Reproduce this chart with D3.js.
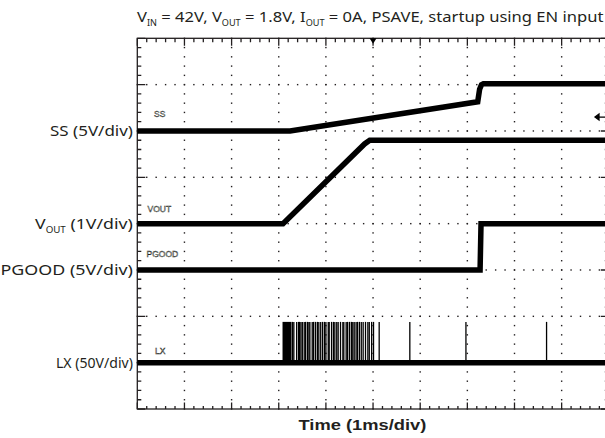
<!DOCTYPE html>
<html>
<head>
<meta charset="utf-8">
<title>Startup using EN input</title>
<style>
  body { margin: 0; background: #fff; }
  svg { display: block; }
  .lbl { font-family: "Noto Sans", sans-serif; font-size: 15px; fill: #231f20; }
  .xlbl { font-family: "Liberation Sans", Arial, sans-serif; font-size: 15px; font-weight: bold; fill: #231f20; }
  .tag { font-family: "Liberation Sans", Arial, sans-serif; font-size: 8.5px; fill: #fff; stroke: #231f20; stroke-width: 0.45px; }
</style>
</head>
<body>
<div id="chart"></div>
<script src="https://cdn.jsdelivr.net/npm/d3@7/dist/d3.min.js"></script>
<script>
// scope settings: 1ms/div, 10 x 8 divisions
const timeDivs = [0, 10];
const voltDivs = [-4, 4];

// channels: ground offset in divisions and volts per division
const channels = ["SS", "VOUT", "PGOOD", "LX"];
const chOffset = [2, 0, -1, -3];
const chVoltsPerDiv = [5, 1, 5, 50];

// traces (time in ms, value in V)
const ssTime   = [0, 3.24, 7.22, 7.26, 7.30, 7.34, 10.2];
const ssVolts  = [0, 0, 3.15, 4.5, 5.0, 5.1, 5.1];
const voutTime  = [0, 3.09, 4.82, 4.93, 10.2];
const voutVolts = [0, 0, 1.72, 1.8, 1.8];
const pgTime   = [0, 7.27, 7.29, 10.2];
const pgVolts  = [0, 0, 5, 5];
const lxBurst  = [3.08, 3.27];
const lxPulses = [3.29, 3.32, 3.38, 3.42, 3.44, 3.47, 3.50, 3.54, 3.57, 3.61, 3.64, 3.66,
  3.71, 3.74, 3.78, 3.82, 3.85, 3.89, 3.93, 3.97, 4.00, 4.05, 4.07, 4.12, 4.16, 4.19, 4.23,
  4.26, 4.31, 4.36, 4.38, 4.43, 4.46, 4.50, 4.54, 4.57, 4.60, 4.64, 4.67, 4.71, 4.75, 4.79,
  4.84, 4.89, 4.92, 4.97, 5.01, 5.13, 5.78, 6.97, 8.68];
const lxPulseVolts = 44;

const triggerLevelDiv = 2.3;

// texts
const titleParts = [["V", "IN", " = 42V, "], ["V", "OUT", " = 1.8V, "], ["I", "OUT", " = 0A, PSAVE, startup using EN input"]];
const chLabels = [["SS", "", " (5V/div)"], ["V", "OUT", " (1V/div)"], ["PGOOD", "", " (5V/div)"], ["LX", "", " (50V/div)"]];
const chTags = ["SS", "VOUT", "PGOOD", "LX"];
const xLabel = "Time (1ms/div)";

const W = 605, H = 438;
const svg = d3.select("#chart").append("svg").attr("width", W).attr("height", H);

const x = d3.scaleLinear().domain(timeDivs).range([137.3, 608.8]);
const y = d3.scaleLinear().domain(voltDivs).range([409, 38.3]);
function chY(i, v) { return y(chOffset[i] + v / chVoltsPerDiv[i]); }

const minorX = d3.range(0, 10.001, 0.2);
const minorY = d3.range(-4, 4.001, 0.2);
const isMajor = d => Math.abs(d - Math.round(d)) < 1e-6;
const ink = "#231f20";

// dotted grid: one dot per minor division
const grid = svg.append("g").attr("fill", ink);
d3.range(1, 10).forEach(c => {
  grid.selectAll(null).data(minorY).join("rect")
    .attr("x", x(c) - 0.7).attr("y", d => y(d) - 0.7).attr("width", 1.4).attr("height", 1.4);
});
d3.range(-3, 4).forEach(r => {
  grid.selectAll(null).data(minorX).join("rect")
    .attr("x", d => x(d) - 0.7).attr("y", y(r) - 0.7).attr("width", 1.4).attr("height", 1.4);
});

// frame
const x0 = x(0), x1 = x(10), yT = y(4), yB = y(-4);

// frame ticks as one path: longer at each division
const tp = d3.path();
minorX.forEach(d => {
  const L = isMajor(d) ? 7.5 : 4;
  tp.moveTo(x(d), yT); tp.lineTo(x(d), yT + L);
  tp.moveTo(x(d), yB); tp.lineTo(x(d), yB - L + 1);
});
minorY.forEach(d => {
  const L = isMajor(d) ? 8 : 4;
  tp.moveTo(x0, y(d)); tp.lineTo(x0 + L, y(d));
  tp.moveTo(x1, y(d)); tp.lineTo(x1 - L, y(d));
});
svg.append("path").attr("d", tp.toString())
  .attr("fill", "none").attr("stroke", ink).attr("stroke-width", 1.3);
svg.append("rect").attr("x", x0).attr("y", yT).attr("width", x1 - x0).attr("height", yB - yT)
  .attr("fill", "none").attr("stroke", ink).attr("stroke-width", 1.3);

// traces
const line = (i) => d3.line().x(d => x(d[0])).y(d => chY(i, d[1]));
const traces = [d3.zip(ssTime, ssVolts), d3.zip(voutTime, voutVolts), d3.zip(pgTime, pgVolts), [[0, 0], [10.2, 0]]];
traces.forEach((tr, i) => {
  svg.append("path").datum(tr).attr("d", line(i))
    .attr("fill", "none").attr("stroke", "#000").attr("stroke-width", 5.5);
});

// LX switching burst and pulses
svg.append("rect")
  .attr("x", x(lxBurst[0])).attr("width", x(lxBurst[1]) - x(lxBurst[0]))
  .attr("y", chY(3, lxPulseVolts)).attr("height", chY(3, 0) - chY(3, lxPulseVolts))
  .attr("fill", "#000");
svg.append("g").selectAll("line").data(lxPulses).join("line")
  .attr("x1", d => x(d)).attr("x2", d => x(d))
  .attr("y1", chY(3, 0)).attr("y2", chY(3, lxPulseVolts))
  .attr("stroke", "#000").attr("stroke-width", 1.3);

// channel tags inside the plot
const tagPos = [[154, -13.5], [147.5, -12], [146.5, -13], [155, -9]];
svg.append("g").selectAll("text").data(chTags).join("text")
  .attr("class", "tag")
  .attr("x", (d, i) => tagPos[i][0])
  .attr("y", (d, i) => chY(i, 0) + tagPos[i][1])
  .text(d => d);

// trigger position and level markers
svg.append("path")
  .attr("d", `M${x(5) - 3.5},${yT} L${x(5) + 3.5},${yT} L${x(5)},${yT + 5.5}Z`)
  .attr("fill", "#000");
const ty = y(triggerLevelDiv);
svg.append("path")
  .attr("d", `M595,${ty} L599,${ty - 3} L599,${ty + 3}Z M598,${ty} H606`)
  .attr("fill", "#000").attr("stroke", "#000").attr("stroke-width", 1.3);

// text helpers
function richText(parts, cls, size, subScale) {
  const t = svg.append("text").attr("class", cls).attr("x", 0).attr("y", 0);
  parts.forEach(p => {
    t.append("tspan").text(p[0]);
    if (p[1]) t.append("tspan").attr("dy", size * 0.28).attr("font-size", size * subScale).text(p[1]);
    t.append("tspan").attr("dy", p[1] ? -size * 0.28 : 0).text(p[2]);
  });
  return t;
}
// stretch a text so its ink spans xa..xb
function fitText(t, xa, xb, baseline) {
  const b = t.node().getBBox();
  const sx = (xb - xa) / b.width;
  t.attr("transform", `translate(${xa - b.x * sx},${baseline}) scale(${sx},1)`);
  return sx;
}

fitText(richText(titleParts, "lbl", 15, 0.55), 137, 604.5, 22);

const labelLeft = [50, 35, 0.5, 56];
chLabels.forEach((p, i) => {
  fitText(richText([p], "lbl", 15, 0.55), labelLeft[i], 133, chY(i, 0) + 5.5);
});

const xl = svg.append("text").attr("class", "xlbl").text(xLabel);
fitText(xl, 298.5, 426.5, 430);
</script>
</body>
</html>
